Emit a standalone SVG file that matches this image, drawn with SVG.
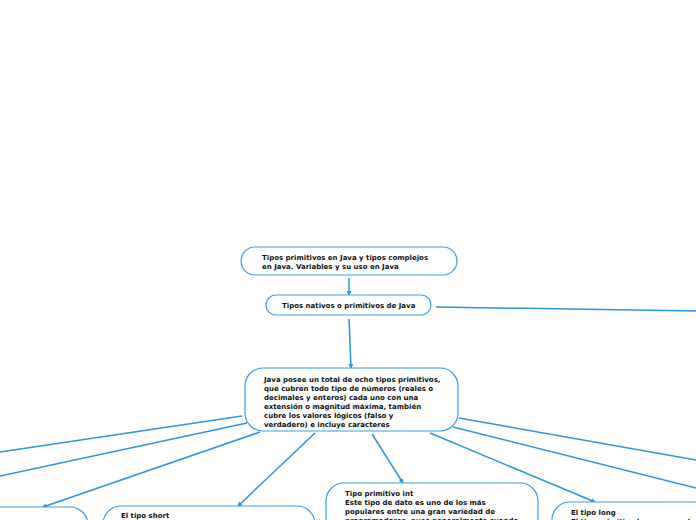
<svg xmlns="http://www.w3.org/2000/svg" width="696" height="520" viewBox="0 0 696 520">
<defs>
<style>
.box{fill:#fff;stroke:#3a9fe4;stroke-width:1.2}
.ln{fill:none;stroke:#2b95de;stroke-width:1.5}
text{font-family:"DejaVu Sans",Verdana,sans-serif;font-weight:700;font-size:7px;fill:#111}
</style>
<marker id="ah" viewBox="0 0 10 10" refX="8" refY="5" markerWidth="5" markerHeight="5" orient="auto" markerUnits="userSpaceOnUse">
<path d="M0,0 L10,5 L0,10 z" fill="#2b95de"/>
</marker>
</defs>
<rect width="696" height="520" fill="#fff"/>
<g id="connectors">
<line class="ln" x1="349" y1="278" x2="349" y2="295" marker-end="url(#ah)"/>
<line class="ln" x1="349" y1="319" x2="351" y2="368" marker-end="url(#ah)"/>
<line class="ln" x1="436" y1="307" x2="696" y2="311"/>
<line class="ln" x1="242" y1="416" x2="0" y2="452"/>
<line class="ln" x1="247" y1="423" x2="0" y2="476"/>
<line class="ln" x1="260" y1="432" x2="43" y2="507" marker-end="url(#ah)"/>
<line class="ln" x1="315" y1="433" x2="238" y2="506" marker-end="url(#ah)"/>
<line class="ln" x1="372" y1="434" x2="403" y2="483" marker-end="url(#ah)"/>
<line class="ln" x1="430" y1="433" x2="595" y2="502" marker-end="url(#ah)"/>
<line class="ln" x1="459" y1="418" x2="696" y2="460"/>
<line class="ln" x1="453" y1="427" x2="696" y2="488"/>
</g>
<g id="n-title">
<rect class="box" x="241" y="247" width="216" height="28" rx="14"/>
<text x="262" y="259.5">Tipos primitivos en Java y tipos complejos</text>
<text x="262" y="268.5">en Java. Variables y su uso en Java</text>
</g>
<g id="n-nativos">
<rect class="box" x="266" y="295" width="165" height="20" rx="10"/>
<text x="282" y="307.5">Tipos nativos o primitivos de Java</text>
</g>
<g id="n-java">
<rect class="box" x="245" y="368" width="213" height="63" rx="18"/>
<text x="264" y="381.5">Java posee un total de ocho tipos primitivos,</text>
<text x="264" y="390.5">que cubren todo tipo de números (reales o</text>
<text x="264" y="399.5">decimales y enteros) cada uno con una</text>
<text x="264" y="408.5">extensión o magnitud máxima, también</text>
<text x="264" y="417.5">cubre los valores lógicos (falso y</text>
<text x="264" y="426.5">verdadero) e incluye caracteres</text>
</g>
<g id="n-left">
<rect class="box" x="-130" y="507" width="218" height="80" rx="18"/>
</g>
<g id="n-short">
<rect class="box" x="103" y="506" width="212" height="80" rx="18"/>
<text x="121" y="518">El tipo short</text>
</g>
<g id="n-int">
<rect class="box" x="326" y="483" width="212" height="80" rx="18"/>
<text x="345" y="496">Tipo primitivo int</text>
<text x="345" y="505">Este tipo de dato es uno de los más</text>
<text x="345" y="514">populares entre una gran variedad de</text>
<text x="345" y="523">programadores, pues generalmente cuando</text>
</g>
<g id="n-long">
<rect class="box" x="552" y="502" width="212" height="80" rx="18"/>
<text x="571" y="514.5">El tipo long</text>
<text x="571" y="523.5">El tipo primitivo long es uno de</text>
</g>
</svg>
